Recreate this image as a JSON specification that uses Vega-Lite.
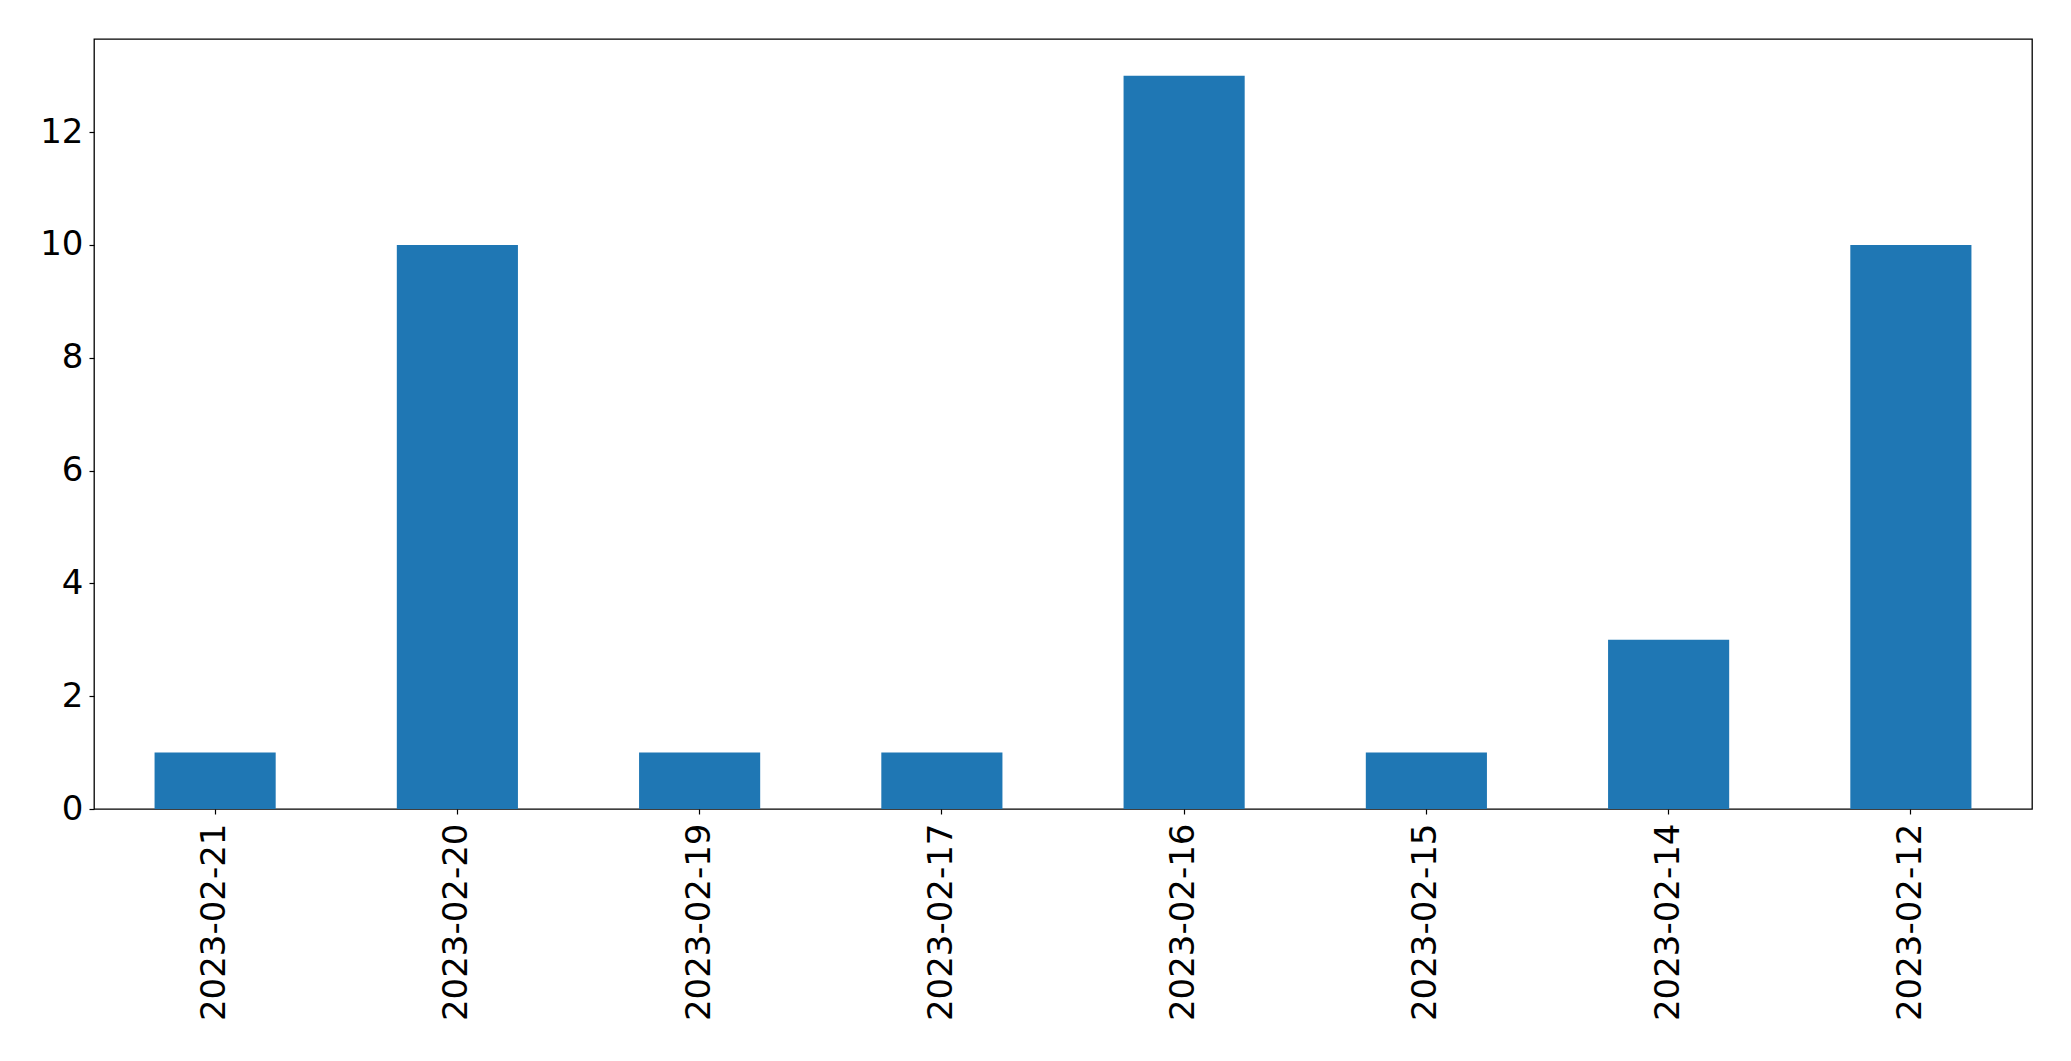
{
  "$schema": "https://vega.github.io/schema/vega-lite/v6.json",
  "autosize": {"type": "none"},
  "padding": {"left": 94, "top": 39, "right": 39, "bottom": 252},
  "width": 1938,
  "height": 770,
  "background": "white",
  "data": {"values": [
    {"date": "2023-02-21", "count": 1},
    {"date": "2023-02-20", "count": 10},
    {"date": "2023-02-19", "count": 1},
    {"date": "2023-02-17", "count": 1},
    {"date": "2023-02-16", "count": 13},
    {"date": "2023-02-15", "count": 1},
    {"date": "2023-02-14", "count": 3},
    {"date": "2023-02-12", "count": 10}
  ]},
  "mark": {"type": "bar", "color": "#1f77b4"},
  "encoding": {
    "x": {
      "field": "date", "type": "nominal", "sort": null,
      "scale": {"paddingInner": 0.5, "paddingOuter": 0.25},
      "axis": {"title": null, "labelAngle": -90, "labelFont": "DejaVu Sans", "labelFontSize": 34, "labelColor": "black", "labelLimit": 0,
               "tickColor": "black", "tickSize": 5, "tickWidth": 1.2, "labelPadding": 9, "domain": false}
    },
    "y": {
      "field": "count", "type": "quantitative",
      "scale": {"domain": [0, 13.65], "nice": false, "zero": true},
      "axis": {"title": null, "values": [0, 2, 4, 6, 8, 10, 12], "grid": false, "labelFont": "DejaVu Sans", "labelFontSize": 34, "labelColor": "black",
               "tickColor": "black", "tickSize": 5, "tickWidth": 1.2, "labelPadding": 6, "domain": false}
    }
  },
  "config": {"view": {"stroke": "black", "strokeWidth": 1.3}}
}
